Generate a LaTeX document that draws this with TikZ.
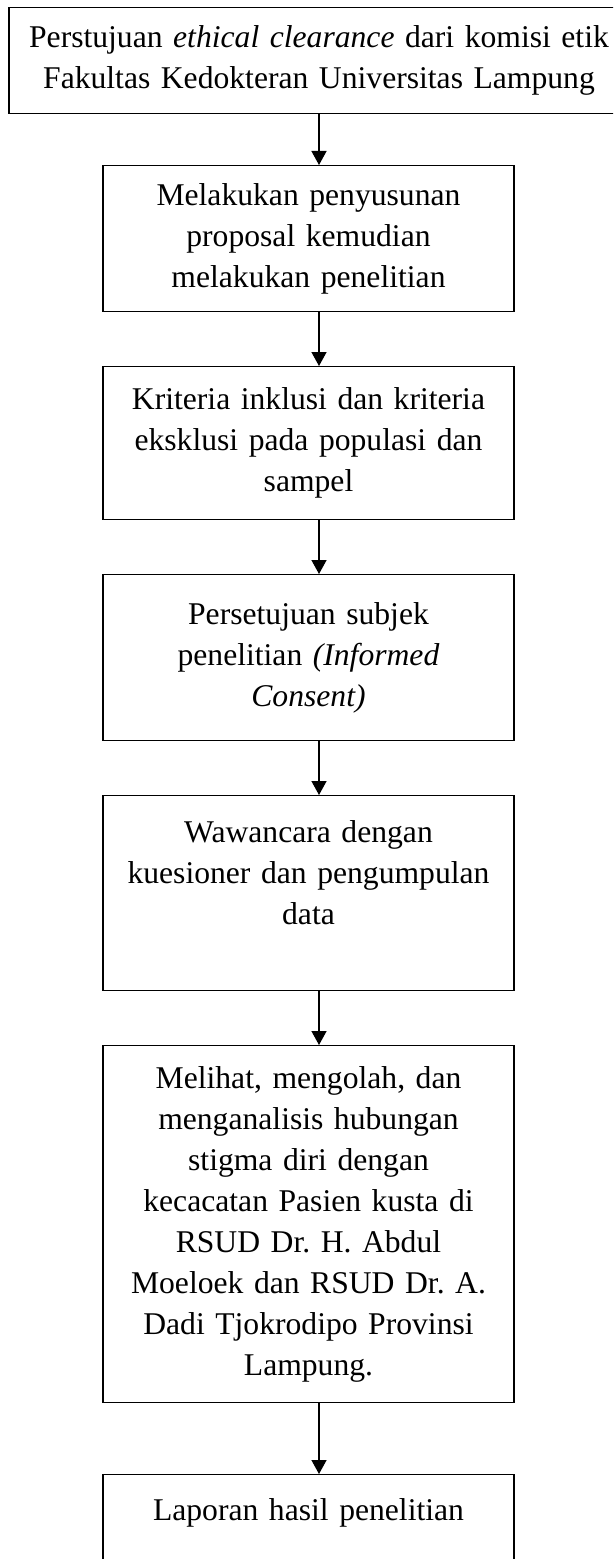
\documentclass[tikz,border=0pt]{standalone}
\usepackage{fontspec}
\setmainfont{Liberation Serif}
\usetikzlibrary{arrows.meta}
\frenchspacing

\tikzset{
  stepbox/.style={draw, line width=0.8pt, anchor=north, align=center,
    inner xsep=0.2cm, inner ysep=0pt, text width=7.8cm, minimum width=8.22cm,
    font=\fontsize{18}{23.3}\selectfont},
  flowarrow/.style={line width=0.8pt, -{Triangle[width=0.3cm,length=0.28cm]}}
}

\begin{document}
\begin{tikzpicture}[y=-1cm]
\useasboundingbox (0,0) rectangle (12.26,31.18);
\clip (0,0) rectangle (12.26,31.18);

\node [stepbox, text width=12.4cm, minimum width=12.4cm, inner xsep=0pt, minimum height=2.12cm] (clearance) at (6.38,0.14)
  {Perstujuan \textit{ethical clearance} dari komisi etik\\ Fakultas Kedokteran Universitas Lampung};
\node [stepbox, minimum height=2.92cm] (proposal) at (6.17,3.30)
  {Melakukan penyusunan\\ proposal kemudian\\ melakukan penelitian};
\node [stepbox, minimum height=3.06cm] (kriteria) at (6.17,7.32)
  {Kriteria inklusi dan kriteria\\ eksklusi pada populasi dan\\ sampel};
\node [stepbox, minimum height=3.32cm] (consent) at (6.17,11.48)
  {Persetujuan subjek\\ penelitian \textit{(Informed}\\ \textit{Consent)}};
\node [stepbox, minimum height=3.90cm] (wawancara) at (6.17,15.90)
  {Wawancara dengan\\ kuesioner dan pengumpulan\\ data\\ \mbox{}};
\node [stepbox, minimum height=7.14cm] (analisis) at (6.17,20.90)
  {Melihat, mengolah, dan\\ menganalisis hubungan\\ stigma diri dengan\\ kecacatan Pasien kusta di\\ RSUD Dr. H. Abdul\\ Moeloek dan RSUD Dr. A.\\ Dadi Tjokrodipo Provinsi\\ Lampung.};
\node [stepbox, minimum height=2.2cm] (laporan) at (6.17,29.48)
  {Laporan hasil penelitian\\ \mbox{}};

\draw [flowarrow] (clearance.south) -- (proposal.north -| clearance.south);
\draw [flowarrow] (proposal.south -| clearance.south) -- (kriteria.north -| clearance.south);
\draw [flowarrow] (kriteria.south -| clearance.south) -- (consent.north -| clearance.south);
\draw [flowarrow] (consent.south -| clearance.south) -- (wawancara.north -| clearance.south);
\draw [flowarrow] (wawancara.south -| clearance.south) -- (analisis.north -| clearance.south);
\draw [flowarrow] (analisis.south -| clearance.south) -- (laporan.north -| clearance.south);

\end{tikzpicture}
\end{document}
